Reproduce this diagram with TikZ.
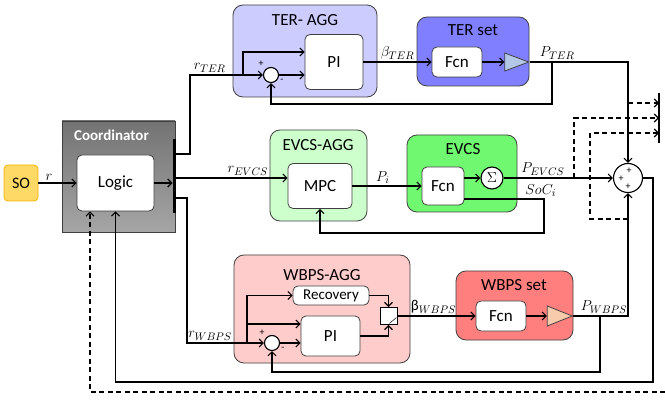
\documentclass[tikz,border=0pt]{standalone}
\usepackage{fontspec}
\setmainfont{Carlito}
\usepackage{amsmath}
\usetikzlibrary{arrows.meta,positioning,shapes.geometric}
\definecolor{soFill}{HTML}{FFD966}
\definecolor{soLine}{HTML}{F2B200}
\definecolor{terAgg}{HTML}{CCCCFF}
\definecolor{terSet}{HTML}{7F7FFF}
\definecolor{terGain}{HTML}{B4C7E7}
\definecolor{evAgg}{HTML}{CCFFCC}
\definecolor{evSet}{HTML}{70F870}
\definecolor{wbAgg}{HTML}{FFCCCC}
\definecolor{wbSet}{HTML}{FF7F7F}
\definecolor{wbGain}{HTML}{F8CBAD}

\begin{document}
\begin{tikzpicture}[x=1pt,y=-1pt,
   >={Straight Barb[length=4pt,width=8pt]}, line width=1.1pt,
   agg/.style={draw=black!75, line width=0.8pt, rounded corners=10pt},
   blk/.style={draw=black!75, line width=0.8pt, fill=white, rounded corners=5pt, font=\fontsize{17}{20}\selectfont},
   ttl/.style={font=\fontsize{17}{20}\selectfont, inner sep=1pt},
   sumc/.style={circle, draw, fill=white, line width=1.1pt, inner sep=0pt},
   gain/.style={isosceles triangle, isosceles triangle stretches, draw=black!75, line width=0.8pt, inner sep=0pt},
   sgn/.style={font=\fontsize{10}{11}\selectfont, inner sep=0pt},
   lbl/.style={font=\fontsize{15}{17}\selectfont, inner sep=2pt},
   dsh/.style={dash pattern=on 5pt off 3.5pt}]

   \useasboundingbox (0,0) rectangle (665,401);

   % Coordinator
   \node[draw={soLine}, fill=soFill, line width=0.8pt, rounded corners=4pt, minimum width=34pt, minimum height=36pt, font=\fontsize{16}{19}\selectfont] (so) at (21,183) {SO};
   \node[draw=black!75, line width=0.8pt, top color=black!55, bottom color=black!35, minimum width=113pt, minimum height=111pt] (coord) at (118.5,176.5) {};
   \node[ttl, text=white, font=\bfseries\fontsize{15}{18}\selectfont] (coordttl) at (111.5,135) {Coordinator};
   \node[blk, minimum width=77pt, minimum height=56pt] (logic) at (115.5,183) {Logic};

   % TER
   \node[agg, fill=terAgg, minimum width=144pt, minimum height=92pt] (teragg) at (305,51) {};
   \node[ttl] (teraggttl) at (305,20) {TER- AGG};
   \node[agg, fill=terSet, minimum width=112pt, minimum height=69pt] (terset) at (473,51.5) {};
   \node[ttl] (tersetttl) at (473,30) {TER set};
   \node[blk, minimum width=58pt, minimum height=55pt] (pi1) at (334,62) {PI};
   \node[sumc, minimum size=15pt] (sum1) at (271,75) {};
   \node[blk, minimum width=50pt, minimum height=30pt] (fcn1) at (457,62) {Fcn};
   \node[gain, fill=terGain, minimum width=18pt, minimum height=24pt] (gain1) at (511,62) {};

   % EVCS
   \node[agg, fill=evAgg, minimum width=97pt, minimum height=91pt] (evagg) at (318.5,175.5) {};
   \node[ttl] (evaggttl) at (318,145) {EVCS-AGG};
   \node[agg, fill=evSet, minimum width=110pt, minimum height=77pt] (evset) at (462,173.5) {};
   \node[ttl] (evsetttl) at (463,149) {EVCS};
   \node[blk, minimum width=64pt, minimum height=45pt] (mpc) at (320,186) {MPC};
   \node[blk, minimum width=42pt, minimum height=38pt] (fcn2) at (443,186) {Fcn};
   \node[sumc, minimum size=22pt, font=\fontsize{14}{16}\selectfont] (sig) at (492,178) {$\Sigma$};

   % WBPS
   \node[agg, fill=wbAgg, minimum width=176pt, minimum height=108pt] (wbagg) at (322,309) {};
   \node[ttl] (wbaggttl) at (322,275) {WBPS-AGG};
   \node[agg, fill=wbSet, minimum width=117pt, minimum height=69pt] (wbset) at (514.5,305.5) {};
   \node[ttl] (wbsetttl) at (514,285) {WBPS set};
   \node[blk, minimum width=76pt, minimum height=19pt, inner sep=0pt, font=\fontsize{15}{17}\selectfont] (rec) at (331,295.5) {Recovery};
   \node[blk, minimum width=59pt, minimum height=40pt] (pi2) at (330.5,336) {PI};
   \node[sumc, minimum size=15pt] (sum2) at (272,343) {};
   \node[draw, fill=white, line width=0.9pt, minimum size=17pt, inner sep=0pt] (sw) at (388.5,316) {};
   \node[blk, minimum width=50pt, minimum height=30pt] (fcn3) at (501,316) {Fcn};
   \node[gain, fill=wbGain, minimum width=20pt, minimum height=25pt] (gain3) at (554,316) {};

   \node[sumc, minimum size=29pt] (sum) at (628,178) {};

   % bars and corner points
   \coordinate (busT) at (174,139);
   \coordinate (busB) at (174,213);
   \coordinate (barT) at (659,93);
   \coordinate (barB) at (659,143);
   \draw[line width=3pt] (busT) -- (busB);
   \draw[line width=2pt] (barT) -- (barB);
   \coordinate (oT) at (174,154);
   \coordinate (oE) at (174,178);
   \coordinate (oW) at (174,198);
   \coordinate (cT) at (190,75);
   \coordinate (bT) at (243,75);
   \coordinate (cW) at (187,343);
   \coordinate (bW) at (247,343);
   \coordinate (pT) at (552,62);
   \coordinate (fT) at (552,104);
   \coordinate (sE) at (544,233);
   \coordinate (pW) at (600,316);
   \coordinate (fW) at (600,372);
   \coordinate (fL) at (653,382);
   \coordinate (dIn) at (665,392);
   \coordinate (d1) at (628,103);
   \coordinate (d1e) at (659,103);
   \coordinate (d2) at (574,178);
   \coordinate (d2e) at (659,118);
   \coordinate (d3) at (628,219);
   \coordinate (d3c) at (590,133);
   \coordinate (d3e) at (659,133);

   % coordinator links
   \draw[->] (so) -- (logic) node[lbl, pos=0.28, above] (lr) {$r$};
   \draw[->] (logic) -- ([xshift=-1.5pt]logic -| busT);
   \draw[->] (sum) -| (fL) -| (logic);
   \draw[dsh,->] (dIn) -| ([xshift=-25.5pt]logic.south);

   % TER links
   \draw[->] (oT) -| (cT) -- (sum1) node[lbl, pos=0.27, above] (lrT) {$r_{TER}$};
   \draw[->] (bT) |- ([yshift=10pt]pi1.west);
   \draw[->] (sum1) -- (sum1 -| pi1.west);
   \draw[->] (pi1) -- (fcn1) node[lbl, midway, above] (lbT) {$\beta_{TER}$};
   \draw[->] (fcn1) -- (gain1);
   \draw[->] (gain1.apex) -| (sum) node[lbl, pos=0.14, above] (lpT) {$P_{TER}$};
   \draw[->] (pT) -- (fT) -| (sum1);
   \node[sgn] (s1a) at (261,64) {+};
   \node[sgn] (s1b) at (282,81) {-};

   % EVCS links
   \draw[->] (oE) -- (oE -| mpc.west) node[lbl, pos=0.65, above] (lrE) {$r_{EVCS}$};
   \draw[->] (mpc) -- (fcn2) node[lbl, pos=0.44, above] (lpi) {$P_i$};
   \draw[->] (sig -| fcn2.east) -- (sig);
   \draw[->] (sig) -- (sum) node[lbl, pos=0.36, above] (lpE) {$P_{EVCS}$};
   \draw[->] ([yshift=-13pt]fcn2.east) -| (sE) node[lbl, pos=0.48, above] (lsoc) {$SoC_i$} -| (mpc);

   % WBPS links
   \draw[->] (oW) -| (cW) -- (sum2) node[lbl, pos=0.3, above] (lrW) {$r_{WBPS}$};
   \draw[->] (bW) |- (rec);
   \draw[->] (bW) |- ([yshift=12pt]pi2.west);
   \draw[->] (sum2) -- (sum2 -| pi2.west);
   \draw[->] (rec) -| (sw);
   \draw[->] (pi2) -| (sw);
   \draw[->] (sw) -- (fcn3) node[lbl, pos=0.46, above] (lbW) {β$_{WBPS}$};
   \draw[->] (fcn3) -- (gain3);
   \draw[->] (gain3.apex) -| (sum) node[lbl, pos=0.28, above] (lpW) {$P_{WBPS}$};
   \draw[->] (pW) -- (fW) -| (sum2);
   \draw[line width=0.5pt] ([xshift=1pt,yshift=1.5pt]sw.south) -- ([xshift=-1pt,yshift=-1.5pt]sw.east);
   \node[sgn] (s2a) at (262,333) {+};
   \node[sgn] (s2b) at (283,349) {-};

   % dashed taps to the bar
   \draw[dsh,->] (d1) -- (d1e);
   \draw[dsh,->] (d2) |- (d2e);
   \draw[dsh,->] (d3) -| (d3c) -- (d3e);
   \foreach \p/\q in {{629,171}/a,{621,179}/b,{628,187}/c}
      \node[sgn] (s0\q) at (\p) {+};

\end{tikzpicture}
\end{document}
